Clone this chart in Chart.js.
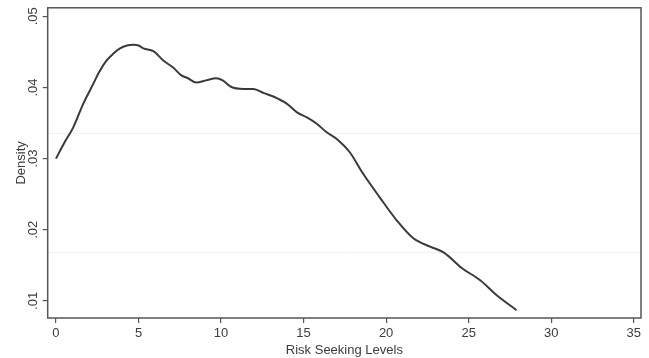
<!DOCTYPE html>
<html>
<head>
<meta charset="utf-8">
<script src="https://cdn.jsdelivr.net/npm/chart.js@4/dist/chart.umd.min.js"></script>
<style>
  html,body{margin:0;padding:0;background:#fff}
  #wrap{width:649px;height:358px;position:relative}
</style>
</head>
<body>
<div id="wrap"><canvas id="c"></canvas></div>
<script>
/* kernel density */
const RISK_X = [0, 0.5, 1.05, 1.65, 2.26, 2.6, 3.07, 3.5, 3.88, 4.3, 4.69, 5.0, 5.3, 5.9, 6.5, 7.1, 7.6, 8.0, 8.5, 9.1, 9.7, 10.1, 10.6, 11.35, 11.95, 12.6, 13.2, 14.0, 14.6, 15.2, 15.8, 16.4, 17.1, 17.8, 18.6, 19.6, 20.65, 21.65, 22.7, 23.5, 24.6, 25.7, 26.7, 27.9];
const DENSITY = [0.0300, 0.0322, 0.0344, 0.0377, 0.0405, 0.0421, 0.0438, 0.0448, 0.0455, 0.0459, 0.0460, 0.0459, 0.0455, 0.0451, 0.0438, 0.0428, 0.0417, 0.0413, 0.0407, 0.0410, 0.0413, 0.0410, 0.0401, 0.0398, 0.0398, 0.0392, 0.0387, 0.0377, 0.0365, 0.0358, 0.0349, 0.0337, 0.0326, 0.0309, 0.0279, 0.0246, 0.0213, 0.0188, 0.0176, 0.0168, 0.0146, 0.0129, 0.0108, 0.0087];
const X_TICKS = [0, 5, 10, 15, 20, 25, 30, 35];
const Y_TICKS = [0.01, 0.02, 0.03, 0.04, 0.05];
const FAINT_GRID = [0.0168, 0.0336];

const AXIS = '#555';
const TXT = '#3c3c3c';
const FONT = "'Liberation Sans', Arial, sans-serif";

/* box round the plot region */
const boxPlugin = {
  id: 'box',
  afterDraw(chart){
    const { ctx, chartArea:a } = chart;
    ctx.save();
    ctx.strokeStyle = AXIS; ctx.lineWidth = 1.5;
    ctx.strokeRect(a.left, a.top, a.right - a.left, a.bottom - a.top);
    ctx.restore();
  }
};

Chart.defaults.font.family = FONT;
Chart.defaults.font.size = 13;
Chart.defaults.color = TXT;

new Chart(document.getElementById('c'), {
  type: 'line',
  data: {
    datasets: [{
      data: RISK_X.map((x, i) => ({ x, y: DENSITY[i] })),
      borderColor: '#3a3a3a', borderWidth: 2, pointRadius: 0,
      fill: false, tension: 0.4, cubicInterpolationMode: 'monotone'
    }]
  },
  plugins: [boxPlugin],
  options: {
    responsive: true, maintainAspectRatio: false, animation: false,
    layout: { padding: { top: 7, right: 8, left: 0, bottom: 0 } },
    plugins: { legend: { display: false }, tooltip: { enabled: false } },
    scales: {
      x: {
        type: 'linear', min: -0.5, max: 35.44,
        afterBuildTicks: s => { s.ticks = X_TICKS.map(v => ({ value: v })); },
        afterFit: s => { s.height = 40; },
        ticks: { padding: 3, maxRotation: 0, color: TXT },
        grid: { drawOnChartArea: false, drawTicks: true, tickLength: 5, color: AXIS, lineWidth: 1.2 },
        border: { display: false },
        title: { display: true, text: 'Risk Seeking Levels', color: TXT, padding: { top: 0, bottom: 0 } }
      },
      y: {
        min: 0.0076, max: 0.0512,
        afterBuildTicks: s => { s.ticks = Y_TICKS.map(v => ({ value: v })); },
        afterFit: s => { s.width = 47.7; },
        ticks: { minRotation: 90, maxRotation: 90, crossAlign: 'center', padding: 0, color: TXT,
                 callback: v => v.toFixed(2).replace(/^0/, '') },
        grid: { drawOnChartArea: false, drawTicks: true, tickLength: 5, color: AXIS, lineWidth: 1.2 },
        border: { display: false },
        title: { display: true, text: 'Density', color: TXT, padding: { top: 14, bottom: 0 } }
      },
      y2: {
        position: 'right', min: 0.0076, max: 0.0512,
        afterBuildTicks: s => { s.ticks = FAINT_GRID.map(v => ({ value: v })); },
        afterFit: s => { s.width = 0; },
        ticks: { display: false },
        grid: { drawTicks: false, color: '#f1f1f1', lineWidth: 1 },
        border: { display: false }
      }
    }
  }
});
</script>
</body>
</html>
